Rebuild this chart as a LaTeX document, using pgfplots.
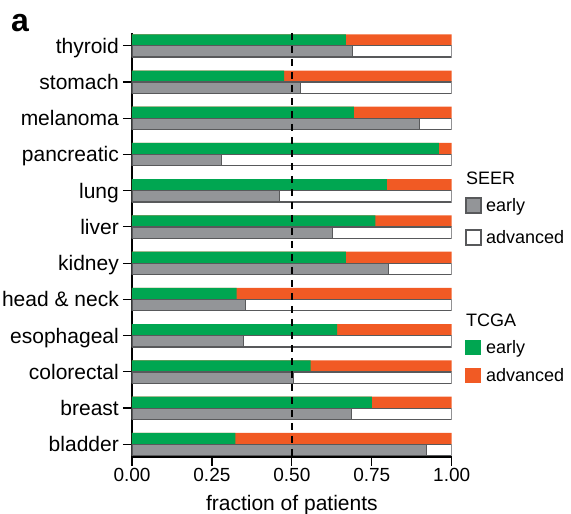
\documentclass[border=0pt]{standalone}
\usepackage{fontspec}
\setmainfont{Liberation Sans}
\usepackage{pgfplots}
\usepackage{pgfplotstable}
\pgfplotsset{compat=1.18}
\definecolor{tgreen}{RGB}{0,166,81}
\definecolor{torange}{RGB}{241,90,36}
\definecolor{sgrey}{RGB}{147,149,152}
\definecolor{sedge}{RGB}{88,89,91}
\pgfplotstableread{
y tcga seer one
0 0.323 0.922 1
1 0.750 0.687 1
2 0.559 0.505 1
3 0.642 0.350 1
4 0.327 0.356 1
5 0.669 0.803 1
6 0.761 0.626 1
7 0.797 0.462 1
8 0.960 0.281 1
9 0.694 0.899 1
10 0.476 0.527 1
11 0.669 0.689 1
}\data
\begin{document}
\begin{tikzpicture}
\useasboundingbox (0,0) rectangle (571pt,514pt);
\begin{axis}[
  at={(132pt,57pt)}, anchor=south west,
  scale only axis, width=319.7pt, height=424pt,
  xmin=0, xmax=1, ymin=-0.35, ymax=11.35,
  axis x line*=bottom, axis y line*=left,
  axis line style={line width=1.2pt, black},
  tick style={line width=1.2pt, black},
  tick align=outside, major tick length=9pt,
  xbar, bar width=0.31,
  xtick={0,0.25,0.5,0.75,1},
  /pgf/number format/assume math mode=true,
  xticklabel style={font=\fontsize{19}{21}\selectfont, /pgf/number format/fixed, /pgf/number format/fixed zerofill, /pgf/number format/precision=2, inner sep=2pt},
  ytick={0,...,11},
  yticklabels={bladder,breast,colorectal,esophageal,head \& neck,kidney,liver,lung,pancreatic,melanoma,stomach,thyroid},
  yticklabel style={font=\fontsize{21}{23}\selectfont, anchor=base east, yshift=-7.5pt, inner xsep=0pt, xshift=-4pt},
  xlabel={fraction of patients},
  xlabel style={font=\fontsize{21}{23}\selectfont, at={(axis description cs:0.5,0)}, anchor=base, yshift=-54pt},
]
\addplot[xbar, bar shift=0.16, fill=torange, draw=none] table[x=one,y=y]{\data};
\addplot[xbar, bar shift=0.16, fill=tgreen, draw=none] table[x=tcga,y=y]{\data};
\addplot[xbar, bar shift=-0.16, fill=white, draw=sedge, line width=1.2pt] table[x=one,y=y]{\data};
\addplot[xbar, bar shift=-0.16, fill=sgrey, draw=sedge, line width=1.2pt] table[x=seer,y=y]{\data};
\draw[black, line width=1.4pt, dash pattern=on 7pt off 6pt] (axis cs:0.5,11.35) -- (axis cs:0.5,-0.35);
\end{axis}
\node[font=\bfseries\fontsize{32}{34}\selectfont, anchor=base west, inner sep=0pt] at (11pt,482pt) {a};
% legend
\begin{scope}[every node/.style={font=\fontsize{18}{20}\selectfont, inner sep=0pt}]
\node[anchor=base west] at (466pt,329pt) {SEER};
\filldraw[fill=sgrey, draw=sedge, line width=1.1pt] (466pt,301pt) rectangle (481pt,316pt);
\node[anchor=base west] at (486pt,302pt) {early};
\filldraw[fill=white, draw=sedge, line width=1.1pt] (466pt,269pt) rectangle (481pt,284pt);
\node[anchor=base west] at (486pt,270pt) {advanced};
\node[anchor=base west] at (466pt,187pt) {TCGA};
\fill[tgreen] (465pt,159pt) rectangle (481pt,174pt);
\node[anchor=base west] at (486pt,160pt) {early};
\fill[torange] (465pt,131pt) rectangle (481pt,146pt);
\node[anchor=base west] at (486pt,132pt) {advanced};
\end{scope}
\end{tikzpicture}
\end{document}
